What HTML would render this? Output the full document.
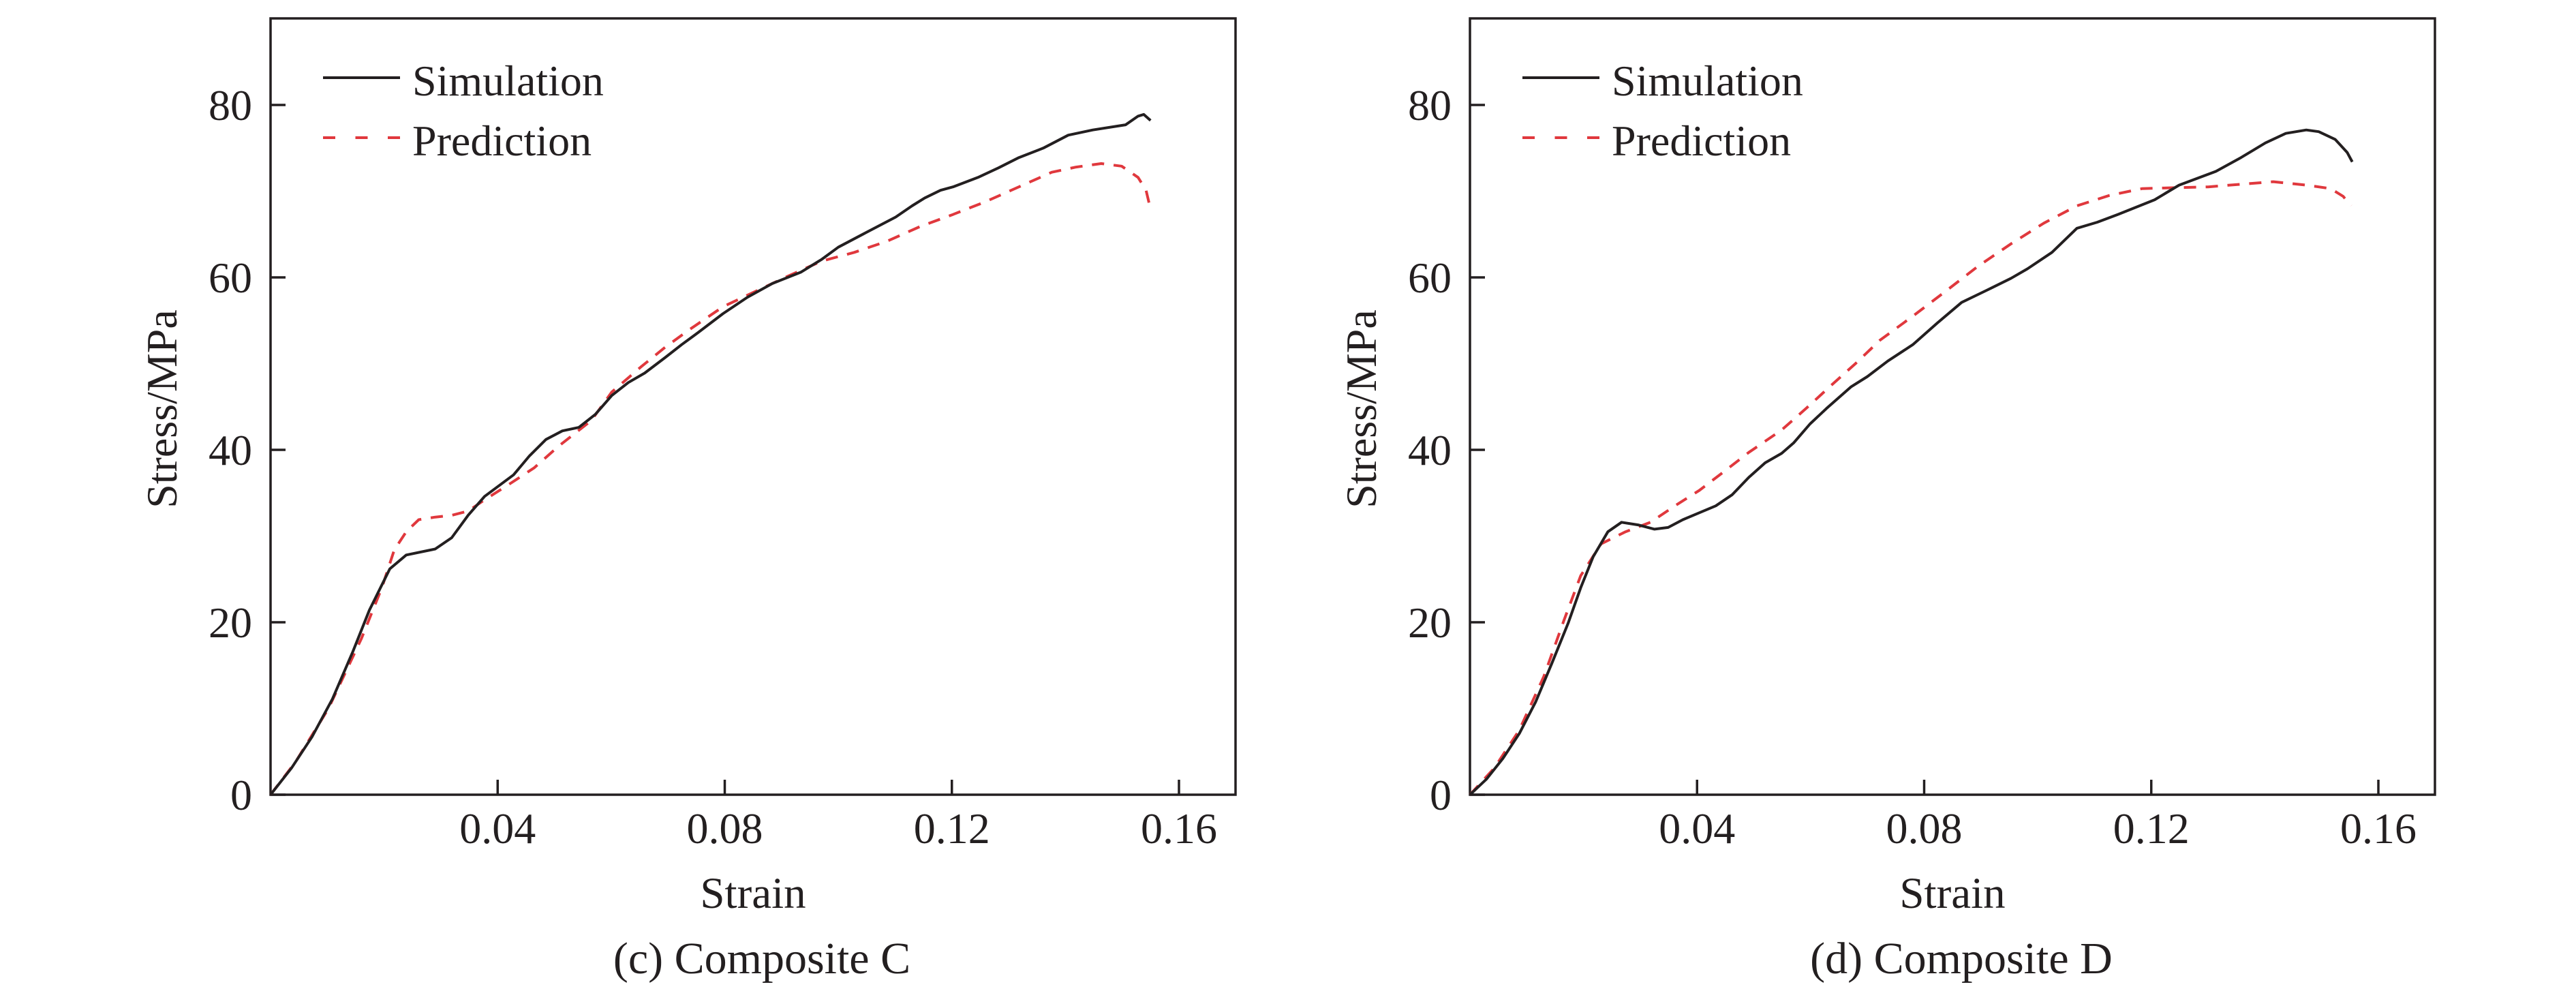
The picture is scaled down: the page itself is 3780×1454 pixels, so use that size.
<!DOCTYPE html>
<html><head><meta charset="utf-8"><style>
html,body{margin:0;padding:0;background:#fff;}
svg{display:block;}
text{font-family:"Liberation Serif",serif;fill:#231f20;}
</style></head><body>
<svg id="fig" width="3780" height="1454" viewBox="0 0 3780 1454" xmlns="http://www.w3.org/2000/svg"></svg>
<script>
const xTicks=[0.04,0.08,0.12,0.16];
const xTickLabels=["0.04","0.08","0.12","0.16"];
const yTicks=[0,20,40,60,80];
const yTickLabels=["0","20","40","60","80"];
const simCStrain=[0,0.0037,0.0073,0.0109,0.0145,0.0174,0.0210,0.0239,0.0290,0.0319,0.0348,0.0377,0.0428,0.0456,0.0485,0.0514,0.0543,0.0572,0.0601,0.0630,0.0659,0.0695,0.0724,0.0753,0.0797,0.0840,0.0884,0.0934,0.0971,0.1000,0.1043,0.1101,0.1130,0.1152,0.1180,0.1202,0.1246,0.1282,0.1318,0.1361,0.1405,0.1448,0.1506,0.1528,0.1538,0.1550];
const simCStress=[0,3.1,6.7,11.1,16.6,21.4,26.2,27.8,28.5,29.8,32.4,34.6,37.1,39.3,41.2,42.2,42.6,44.1,46.3,47.8,48.9,50.7,52.2,53.6,55.8,57.7,59.3,60.6,62.1,63.5,65.0,67.0,68.3,69.2,70.1,70.5,71.6,72.7,73.9,75.0,76.5,77.1,77.7,78.7,78.9,78.2];
const predCStrain=[0,0.0044,0.0102,0.0160,0.0196,0.0218,0.0239,0.0261,0.0290,0.0319,0.0348,0.0377,0.0420,0.0464,0.0507,0.0565,0.0601,0.0652,0.0695,0.0739,0.0797,0.0855,0.0913,0.0971,0.1028,0.1086,0.1144,0.1202,0.1260,0.1318,0.1376,0.1419,0.1463,0.1499,0.1528,0.1542,0.1550];
const predCStress=[0,3.8,10.0,18.1,24.0,28.4,30.5,31.9,32.2,32.4,32.9,34.2,36.0,37.9,40.4,43.4,46.7,49.6,51.9,54.0,56.6,58.4,60.2,61.9,62.9,64.2,65.9,67.3,68.8,70.5,72.2,72.8,73.2,72.9,71.6,70.1,67.9];
const simDStrain=[0,0.0029,0.0058,0.0087,0.0116,0.0144,0.0173,0.0195,0.0217,0.0243,0.0267,0.0296,0.0325,0.0349,0.0375,0.0404,0.0433,0.0462,0.0491,0.0520,0.0549,0.0570,0.0599,0.0628,0.0671,0.0700,0.0736,0.0780,0.0823,0.0866,0.0910,0.0953,0.0982,0.1025,0.1069,0.1105,0.1141,0.1206,0.1249,0.1314,0.1358,0.1401,0.1437,0.1473,0.1495,0.1524,0.1545,0.1554];
const simDStress=[0,1.8,4.2,7.1,10.8,15.2,19.9,24.0,27.6,30.5,31.6,31.3,30.8,31.0,31.9,32.7,33.5,34.8,36.8,38.5,39.6,40.8,43.0,44.8,47.3,48.5,50.3,52.2,54.7,57.1,58.5,59.9,61.0,62.9,65.7,66.4,67.3,69.0,70.7,72.3,73.9,75.6,76.7,77.1,76.9,76.0,74.5,73.4];
const predDStrain=[0,0.0043,0.0087,0.0130,0.0166,0.0195,0.0231,0.0274,0.0318,0.0361,0.0404,0.0448,0.0491,0.0549,0.0592,0.0635,0.0679,0.0722,0.0780,0.0838,0.0895,0.0953,0.1011,0.1069,0.1126,0.1184,0.1242,0.1300,0.1357,0.1415,0.1473,0.1516,0.1538,0.1552];
const predDStress=[0,3.1,7.5,13.7,20.3,25.4,29.1,30.5,31.6,33.5,35.3,37.5,39.7,42.3,44.8,47.4,50.0,52.7,55.5,58.4,61.3,63.9,66.3,68.3,69.5,70.3,70.4,70.5,70.8,71.1,70.7,70.3,69.4,68.3];

const NS="http://www.w3.org/2000/svg";
const svg=document.getElementById('fig');
function mk(tag,attrs,parent,txt){const e=document.createElementNS(NS,tag);for(const k in attrs)e.setAttribute(k,attrs[k]);if(txt!==undefined)e.textContent=txt;parent.appendChild(e);return e;}

function panel(off,key,caption,simX,simY,predX,predY){
  const L=397+off,R=1813+off,T=27,B=1166;
  const sx=v=>L+v*(1730-397)/0.16;
  const sy=v=>B-v*(B-154)/80;
  const g=mk('g',{},svg);
  
  
  xTicks.forEach((t,i)=>{
    const tk=mk('line',{x1:sx(t),x2:sx(t),y1:B,y2:B-22,stroke:'#231f20','stroke-width':3.5},g);
    
    
    const lb=mk('text',{x:sx(t),y:1237,'font-size':64,'text-anchor':'middle'},g,xTickLabels[i]);
    
    
  });
  yTicks.forEach((t,i)=>{
    const tk=mk('line',{x1:L,x2:L+22,y1:sy(t),y2:sy(t),stroke:'#231f20','stroke-width':3.5},g);
    
    
    const lb=mk('text',{x:370+off,y:sy(t)+22,'font-size':64,'text-anchor':'end'},g,yTickLabels[i]);
    
    
  });
  const frame=mk('rect',{x:L,y:T,width:R-L,height:B-T,fill:'none',stroke:'#231f20','stroke-width':3.5},g);
  
  
  const path=(xs,ys)=>xs.map((v,i)=>(i?'L':'M')+sx(v).toFixed(1)+','+sy(ys[i]).toFixed(1)).join('');
  const pp=mk('path',{d:path(predX,predY),fill:'none',stroke:'#e0383d','stroke-width':4,'stroke-dasharray':'18 14','stroke-linejoin':'round'},g);
  
  
  const sp=mk('path',{d:path(simX,simY),fill:'none',stroke:'#231f20','stroke-width':4,'stroke-linejoin':'round'},g);
  
  
  const ls=mk('line',{x1:474+off,x2:587+off,y1:114,y2:114,stroke:'#231f20','stroke-width':4},g);
  
  
  const lt1=mk('text',{x:605+off,y:140,'font-size':64},g,'Simulation');
  
  
  const lp=mk('line',{x1:474+off,x2:587+off,y1:202,y2:202,stroke:'#e0383d','stroke-width':4,'stroke-dasharray':'18 29.5'},g);
  
  
  const lt2=mk('text',{x:605+off,y:228,'font-size':64},g,'Prediction');
  
  
  const xt=mk('text',{x:(L+R)/2,y:1332,'font-size':65,'text-anchor':'middle'},g,'Strain');
  
  
  const yt=mk('text',{x:0,y:0,'font-size':64,'text-anchor':'middle',transform:'translate('+(259+off)+',600) rotate(-90)'},g,'Stress/MPa');
  
  
  const cp=mk('text',{x:1118+off,y:1428,'font-size':66,'text-anchor':'middle'},g,caption);
  
  
}
panel(0,'composite-c','(c) Composite C',simCStrain,simCStress,predCStrain,predCStress);
panel(1760,'composite-d','(d) Composite D',simDStrain,simDStress,predDStrain,predDStress);
</script>
</body></html>
